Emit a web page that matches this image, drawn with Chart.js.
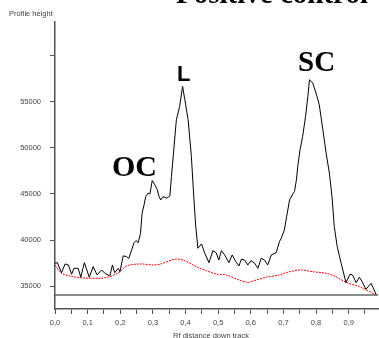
<!DOCTYPE html>
<html>
<head>
<meta charset="utf-8">
<script src="https://cdn.jsdelivr.net/npm/chart.js@4/dist/chart.umd.min.js"></script>
<style>
  html, body { margin: 0; padding: 0; background: #fff; }
  #wrap { width: 379px; height: 338px; }
</style>
</head>
<body>
<div id="wrap"><canvas id="chart" width="379" height="338"></canvas></div>
<script>
// profile (black trace)
const profileRf = [0, 0.007, 0.020, 0.031, 0.041, 0.051, 0.058, 0.071, 0.079, 0.090,
  0.105, 0.117, 0.129, 0.143, 0.153, 0.168, 0.176, 0.183, 0.194, 0.199,
  0.209, 0.219, 0.226, 0.235, 0.242, 0.248, 0.255, 0.262, 0.267, 0.273,
  0.278, 0.285, 0.291, 0.298, 0.306, 0.313, 0.319, 0.324, 0.331, 0.342,
  0.352, 0.357, 0.364, 0.372, 0.382, 0.391, 0.398, 0.408, 0.418, 0.425,
  0.431, 0.438, 0.449, 0.459, 0.472, 0.484, 0.494, 0.502, 0.510, 0.520,
  0.533, 0.543, 0.554, 0.564, 0.571, 0.581, 0.591, 0.601, 0.612, 0.622,
  0.632, 0.642, 0.652, 0.663, 0.678, 0.688, 0.694, 0.703, 0.710, 0.719,
  0.729, 0.734, 0.740, 0.744, 0.751, 0.759, 0.768, 0.775, 0.780, 0.790,
  0.800, 0.810, 0.821, 0.831, 0.841, 0.849, 0.856, 0.865, 0.877, 0.892,
  0.904, 0.912, 0.923, 0.933, 0.942, 0.953, 0.969, 0.984];
const profileHeight = [37500, 37560, 36475, 37420, 37310, 36300, 36950, 36950, 35980, 37560,
  35980, 37130, 36230, 36770, 36410, 36120, 37310, 36475, 36950, 36580,
  38290, 38230, 38015, 38940, 39700, 39950, 39730, 40730, 42920, 43820,
  44720, 45090, 45010, 46450, 45990, 45520, 44720, 44360, 44720, 44540,
  44790, 46890, 49780, 53040, 54480, 56650, 55210, 53040, 49060, 44900,
  41650, 39120, 39590, 38580, 37560, 38860, 38640, 37850, 38860, 38400,
  37560, 38400, 37670, 37200, 37930, 37850, 37310, 37780, 37495, 36950,
  38040, 37850, 37310, 38400, 38640, 39840, 40240, 41110, 42550, 44360,
  45010, 45260, 46530, 47970, 49780, 51230, 53400, 55560, 57380, 57020,
  55930, 54660, 51950, 49430, 47260, 44720, 41460, 39300, 37495, 35390,
  36300, 36230, 35390, 35980, 35470, 34675, 35325, 34130];

// background (red dotted trace)
const backgroundRf = [0, 0.020, 0.046, 0.076, 0.138, 0.168, 0.199, 0.219, 0.260, 0.301,
  0.321, 0.367, 0.392, 0.433, 0.464, 0.494, 0.525, 0.556, 0.591, 0.617,
  0.647, 0.688, 0.719, 0.754, 0.790, 0.831, 0.861, 0.892, 0.933, 0.984];
const backgroundHeight = [37310, 36410, 36120, 35930, 35870, 36040, 36580, 37200, 37420, 37310,
  37390, 37930, 37850, 37130, 36690, 36330, 36230, 35790, 35430, 35680,
  35980, 36230, 36580, 36770, 36580, 36410, 36040, 35430, 34960, 34060];

const baselineRf = [0, 0.99];
const baselineHeight = [34060, 34060];

const yTicks = [35000, 40000, 45000, 50000, 55000, 60000];
const yLabels = ['35000', '40000', '45000', '50000', '55000', ''];
const xTicks = [0, 0.05, 0.1, 0.15, 0.2, 0.25, 0.3, 0.35, 0.4, 0.45,
  0.5, 0.55, 0.6, 0.65, 0.7, 0.75, 0.8, 0.85, 0.9, 0.95];
const xLabels = ['0,0', '', '0,1', '', '0,2', '', '0,3', '', '0,4', '',
  '0,5', '', '0,6', '', '0,7', '', '0,8', '', '0,9', ''];

const toPoints = (xs, ys) => xs.map((x, i) => ({ x: x, y: ys[i] }));

const sans = '"Liberation Sans", Arial, sans-serif';
const serif = '"Liberation Serif", "Times New Roman", serif';

// texts around the plot
const textPlugin = {
  id: 'texts',
  afterDraw(chart) {
    const ctx = chart.ctx;
    ctx.save();
    ctx.fillStyle = '#000';
    ctx.textBaseline = 'alphabetic';
    ctx.textAlign = 'left';
    ctx.font = 'bold 29px ' + serif;
    ctx.fillText('Positive control', 176, 2.5);
    ctx.font = 'bold 30px ' + serif;
    ctx.fillText('OC', 112, 176);
    ctx.font = 'bold 29px ' + serif;
    ctx.fillText('SC', 298, 71);
    ctx.font = 'bold 22px ' + sans;
    ctx.fillText('L', 177, 81);

    ctx.fillStyle = '#444';
    ctx.font = '7.5px ' + sans;
    ctx.fillText('Profile height', 9, 15.5);
    ctx.textAlign = 'center';
    ctx.fillText('Rf distance down track', 211, 337.5);
    ctx.restore();
  }
};

new Chart(document.getElementById('chart'), {
  type: 'line',
  data: {
    datasets: [
      {
        data: toPoints(profileRf, profileHeight),
        borderColor: '#000',
        borderWidth: 1,
        pointRadius: 0,
        tension: 0,
      },
      {
        data: toPoints(backgroundRf, backgroundHeight),
        borderColor: '#ff0000',
        borderWidth: 1,
        borderDash: [2, 1],
        pointRadius: 0,
        tension: 0.3,
      },
      {
        data: toPoints(baselineRf, baselineHeight),
        borderColor: '#666',
        borderWidth: 1.5,
        pointRadius: 0,
      },
    ],
  },
  options: {
    responsive: false,
    animation: false,
    layout: { padding: { top: 22, right: 1, left: 0, bottom: 0 } },
    plugins: { legend: { display: false }, tooltip: { enabled: false } },
    scales: {
      x: {
        type: 'linear',
        min: 0,
        max: 0.99,
        afterBuildTicks: (scale) => { scale.ticks = xTicks.map((v) => ({ value: v })); },
        afterFit: (scale) => { scale.height = 29; },
        ticks: {
          autoSkip: false,
          maxRotation: 0,
          padding: 4,
          color: '#444',
          font: { family: sans, size: 7.5 },
          callback: (value, index) => xLabels[index],
        },
        grid: { drawOnChartArea: false, tickLength: 5, color: '#555' },
        border: { color: '#555', width: 1.5 },
      },
      y: {
        min: 32540,
        max: 63630,
        afterBuildTicks: (scale) => { scale.ticks = yTicks.map((v) => ({ value: v })); },
        afterFit: (scale) => { scale.width = 55; },
        ticks: {
          padding: 9,
          color: '#444',
          font: { family: sans, size: 7.5 },
          callback: (value, index) => yLabels[index],
        },
        grid: { drawOnChartArea: false, tickLength: 5, color: '#555' },
        border: { color: '#555', width: 1.5 },
      },
    },
  },
  plugins: [textPlugin],
});
</script>
</body>
</html>
